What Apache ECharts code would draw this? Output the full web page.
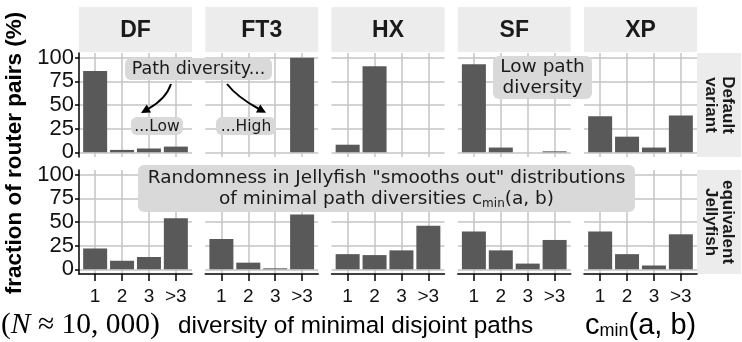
<!DOCTYPE html>
<html>
<head>
    <meta charset="UTF-8"/>
    <script src="https://cdn.jsdelivr.net/npm/echarts@6/dist/echarts.min.js"></script>
    <style>
        body {margin: 0; background: #fff;}
        #chart {width: 742px; height: 342px;}
    </style>
    <title>path diversity</title>
</head>
<body>
<div id="chart"></div>
<script type="text/javascript">
    var panels = ['DF', 'FT3', 'HX', 'SF', 'XP'];
    var rowLabels = ['Default\nvariant', 'equivalent\nJellyfish'];
    var categories = ['1', '2', '3', '>3'];
    var xTicks = [1, 2, 3, 4];
    var yTicks = [0, 25, 50, 75, 100];

    // default variant, % of router pairs for c_min = 1, 2, 3, >3
    var dfDefault = [86, 2.5, 4, 6];
    var ft3Default = [0, 0, 0, 100];
    var hxDefault = [8, 91, 0, 0];
    var sfDefault = [93, 5, 0, 1];
    var xpDefault = [38, 16.5, 5, 39];

    // equivalent jellyfish
    var dfJelly = [22, 9, 13, 54];
    var ft3Jelly = [32, 7, 1, 58];
    var hxJelly = [16, 15, 20, 46];
    var sfJelly = [40, 20, 6, 31];
    var xpJelly = [40, 16, 4, 37];

    var rows = [
        [dfDefault, ft3Default, hxDefault, sfDefault, xpDefault],
        [dfJelly, ft3Jelly, hxJelly, sfJelly, xpJelly]
    ];

    var sans = 'Liberation Sans';
    var dv = 'DejaVu Sans';
    var gridColor = '#c4c4c4';
    var boxFill = '#d9d9d9';

    function box(x, y, w, h) {
        return {type: 'rect', z: 100, shape: {x: x, y: y, width: w, height: h, r: 6}, style: {fill: boxFill}};
    }

    function label(text, x, y, size, extra) {
        var st = {text: text, x: x, y: y, align: 'center', verticalAlign: 'middle', fontFamily: dv, fontSize: size, fill: '#1a1a1a', lineHeight: size * 1.15};
        for (var k in (extra || {})) st[k] = extra[k];
        return {type: 'text', z: 101, style: st};
    }

    function arrow(x1, y1, cx, cy, x2, y2) {
        var dx = x2 - cx, dy = y2 - cy, len = Math.sqrt(dx * dx + dy * dy);
        dx /= len; dy /= len;
        var tx = x2 + dx * 8, ty = y2 + dy * 8, w = 4.5, bx = x2 - dx, by = y2 - dy;
        return [
            {type: 'bezierCurve', z: 101, shape: {x1: x1, y1: y1, cpx1: cx, cpy1: cy, x2: x2, y2: y2},
                style: {stroke: '#000', lineWidth: 2, fill: null}},
            {type: 'polygon', z: 101, shape: {points: [[tx, ty], [bx - dy * w, by + dx * w], [bx + dy * w, by - dx * w]]},
                style: {fill: '#000'}}
        ];
    }

    function buildOption() {
        var grids = [], xAxes = [], yAxes = [], series = [], graphics = [];

        for (var r = 0; r < 2; r++) {
            var gTop = r === 0 ? 53 : 170;
            for (var c = 0; c < 5; c++) {
                var idx = r * 5 + c;
                var gLeft = 79 + c * 126.25;
                grids.push({left: gLeft, top: gTop, width: 113, height: 104});
                xAxes.push({
                    type: 'value', gridIndex: idx, min: 0.4, max: 4.6,
                    axisLine: {show: r === 1, onZero: false, lineStyle: {color: '#000', width: 1.5}},
                    axisTick: {show: r === 1, customValues: xTicks, length: 7, lineStyle: {color: '#000', width: 1.5}},
                    axisLabel: {
                        show: r === 1, customValues: xTicks, margin: 13,
                        fontFamily: sans, fontSize: 19, color: '#111',
                        formatter: function (v) { return categories[Math.round(v) - 1]; }
                    },
                    splitLine: {show: true, lineStyle: {color: gridColor, width: 1.5}}
                });
                yAxes.push({
                    type: 'value', gridIndex: idx, min: -5, max: 105,
                    axisLine: {show: c === 0, onZero: false, lineStyle: {color: '#000', width: 1.5}},
                    axisTick: {show: c === 0, customValues: yTicks, length: 4, lineStyle: {color: '#000', width: 1.5}},
                    axisLabel: {show: c === 0, customValues: yTicks, margin: 5, fontFamily: sans, fontSize: 22, color: '#111'},
                    splitLine: {show: true, lineStyle: {color: gridColor, width: 1.5}}
                });
                series.push({
                    type: 'bar', xAxisIndex: idx, yAxisIndex: idx, barWidth: 24, silent: true,
                    itemStyle: {color: '#595959'},
                    data: rows[r][c].map(function (v, k) { return [xTicks[k], v]; })
                });
                if (r === 0) {
                    graphics.push({type: 'rect', shape: {x: gLeft, y: 7, width: 113, height: 45}, style: {fill: '#ececec'}});
                    graphics.push({type: 'text', style: {text: panels[c], x: gLeft + 56.5, y: 31, align: 'center', verticalAlign: 'middle',
                        fontFamily: sans, fontWeight: 'bold', fontSize: 23, fill: '#1a1a1a'}});
                }
            }
            graphics.push({type: 'rect', shape: {x: 697, y: gTop, width: 44, height: 104}, style: {fill: '#ececec'}});
            graphics.push({type: 'text', x: 719, y: gTop + 52, rotation: -Math.PI / 2,
                style: {text: rowLabels[r], x: 0, y: 0, align: 'center', verticalAlign: 'middle', lineHeight: 17,
                    fontFamily: sans, fontWeight: 'bold', fontSize: 17, fill: '#1a1a1a'}});
        }

        // axis titles
        graphics.push({type: 'text', x: 15, y: 153, rotation: Math.PI / 2,
            style: {text: 'fraction of router pairs (%)', x: 0, y: 0, align: 'center', verticalAlign: 'middle',
                fontFamily: sans, fontWeight: 'bold', fontSize: 22.5, fill: '#000'}});
        graphics.push({type: 'text', style: {text: 'diversity of minimal disjoint paths', x: 178, y: 326, verticalAlign: 'middle',
            fontFamily: sans, fontSize: 24.3, fill: '#000'}});
        graphics.push({type: 'text', style: {text: '{c|c}{s|min}{c|(a, b)}', x: 585, y: 325, verticalAlign: 'middle',
            rich: {
                c: {fontFamily: sans, fontSize: 29, fill: '#000', verticalAlign: 'bottom', lineHeight: 30},
                s: {fontFamily: sans, fontSize: 18, fill: '#000', verticalAlign: 'bottom', lineHeight: 22}
            }}});
        graphics.push({type: 'text', style: {text: '{p|(}{i|N}{p| \u2248 10, 000)}', x: 1, y: 325, verticalAlign: 'middle',
            rich: {
                p: {fontFamily: 'Liberation Serif', fontSize: 29.5, fill: '#000'},
                i: {fontFamily: 'Liberation Serif', fontStyle: 'italic', fontSize: 29.5, fill: '#000'}
            }}});

        // annotations
        graphics.push(box(125, 58, 147, 22));
        graphics.push(label('Path diversity...', 198.5, 69, 17.5));
        graphics.push(box(131, 117, 52, 18));
        graphics.push(label('...Low', 157, 126.5, 15.5));
        graphics.push(box(216, 117, 60, 18));
        graphics.push(label('...High', 246, 126.5, 15.5));
        graphics = graphics.concat(arrow(171, 84, 166, 99, 148, 109));
        graphics = graphics.concat(arrow(227, 84, 237, 97, 259, 109));
        graphics.push(box(493, 56, 99, 43));
        graphics.push(label('Low path\ndiversity', 542.5, 77.5, 18.5, {lineHeight: 21}));
        graphics.push(box(138, 165, 497, 47));
        graphics.push(label('Randomness in Jellyfish "smooths out" distributions\nof minimal path diversities c{s|min}(a, b)', 386.5, 188.5, 18.5, {
            lineHeight: 21,
            rich: {s: {fontFamily: dv, fontSize: 12, fill: '#1a1a1a', verticalAlign: 'bottom', lineHeight: 14}}
        }));

        return {
            animation: false,
            backgroundColor: '#fff',
            grid: grids,
            xAxis: xAxes,
            yAxis: yAxes,
            series: series,
            graphic: graphics
        };
    }

    var myChart = echarts.init(document.getElementById('chart'));
    myChart.setOption(buildOption());
</script>
</body>
</html>
